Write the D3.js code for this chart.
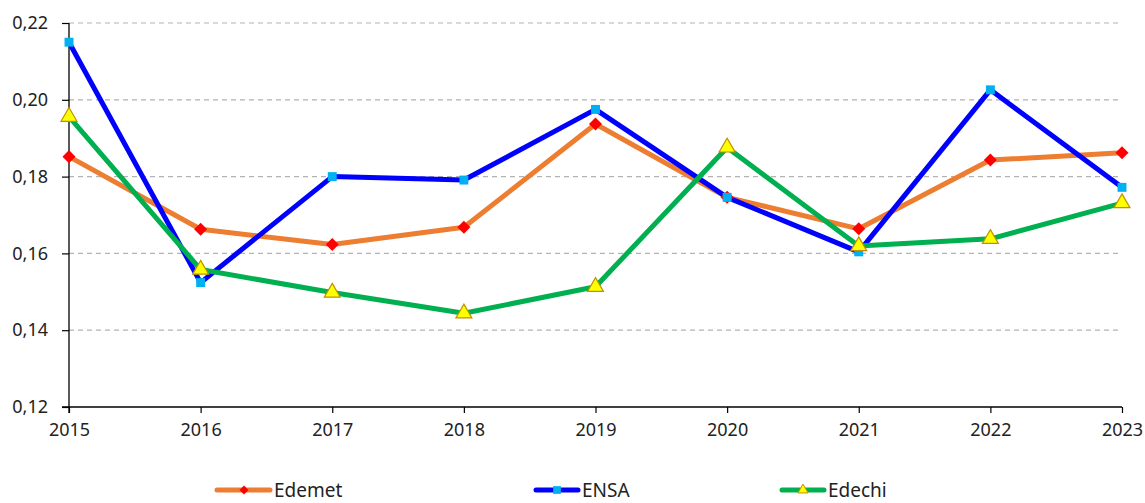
<!DOCTYPE html>
<html><head><meta charset="utf-8">
<script src="https://cdn.jsdelivr.net/npm/d3@7"></script>
<style>
html,body{margin:0;padding:0;background:#fff;overflow:hidden}
svg{display:block}
text{font-family:"Noto Sans","Open Sans",sans-serif;fill:#222}
</style></head>
<body>
<svg id="chart" width="1145" height="503"></svg>
<script>
const years = [2015, 2016, 2017, 2018, 2019, 2020, 2021, 2022, 2023];
const edemet = [0.1852, 0.1663, 0.1623, 0.1668, 0.1937, 0.1746, 0.1664, 0.1843, 0.1862];
const ensa   = [0.2150, 0.1524, 0.1800, 0.1791, 0.1975, 0.1746, 0.1604, 0.2026, 0.1772];
const edechi = [0.1956, 0.1558, 0.1498, 0.1444, 0.1513, 0.1876, 0.1619, 0.1638, 0.1731];
const yTicks = [0.12, 0.14, 0.16, 0.18, 0.20, 0.22];
const seriesNames = ["Edemet", "ENSA", "Edechi"];

const svg = d3.select("#chart");
const x = d3.scaleLinear().domain([2015, 2023]).range([69, 1122]);
const y = d3.scaleLinear().domain([0.12, 0.22]).range([407, 23]);

// grid
svg.append("g").selectAll("line").data(yTicks.filter(t => t > 0.12)).join("line")
  .attr("x1", 69).attr("x2", 1122)
  .attr("y1", d => y(d)).attr("y2", d => y(d))
  .attr("stroke", "#b3b3b3").attr("stroke-width", 1.2).attr("stroke-dasharray", "5,4");

const fmt = d => d.toFixed(2).replace(".", ",");
const yAxis = svg.append("g").attr("transform", "translate(69,0)")
  .call(d3.axisLeft(y).tickValues(yTicks).tickFormat(fmt).tickSize(7).tickPadding(14));
yAxis.select(".domain").attr("d", "M0,23V413").attr("stroke", "#000").attr("stroke-width", 1.3);
const xAxis = svg.append("g").attr("transform", "translate(0,407)")
  .call(d3.axisBottom(x).tickValues(years).tickFormat(d3.format("d")).tickSize(6).tickPadding(10));
xAxis.select(".domain").attr("d", "M62,0H1122").attr("stroke", "#000").attr("stroke-width", 1.3);
svg.selectAll(".tick line").attr("stroke", "#000").attr("stroke-width", 1.2);
svg.selectAll(".tick text").attr("font-size", 18).attr("fill", "#222")
  .style("font-family", "'Noto Sans','Open Sans',sans-serif");

const line = d3.line().x((d, i) => x(years[i])).y(d => y(d));
const cfg = [
  {data: edemet, color: "#ed7d31", marker: "diamond", fill: "#ff0000", stroke: "none", size: 85},
  {data: ensa, color: "#0000ff", marker: "square", fill: "#00b0f0", stroke: "none", size: 80},
  {data: edechi, color: "#00b050", marker: "triangle", fill: "#ffff00", stroke: "#c09000", size: 110}
];
const symType = {diamond: d3.symbolDiamond2, square: d3.symbolSquare, triangle: d3.symbolTriangle};
cfg.forEach(c => {
  svg.append("path").datum(c.data).attr("d", line)
    .attr("fill", "none").attr("stroke", c.color).attr("stroke-width", 5).attr("stroke-linejoin", "round");
});
cfg.forEach(c => {
  const sym = c.marker === "diamond" ? d3.symbol(d3.symbolSquare, c.size) : d3.symbol(symType[c.marker], c.size);
  svg.append("g").selectAll("path").data(c.data).join("path")
    .attr("transform", (d, i) => `translate(${x(years[i])},${y(d)})` + (c.marker === "diamond" ? " rotate(45)" : ""))
    .attr("d", sym).attr("fill", c.fill).attr("stroke", c.stroke).attr("stroke-width", 1.2);
});

// legend
const legX = [217, 536, 782];
const legW = [53, 42, 42];
const legM = [27, 21, 21];
const legT = [57, 46, 46];
const lg = svg.append("g");
cfg.forEach((c, i) => {
  const g = lg.append("g").attr("transform", `translate(${legX[i]},490)`);
  g.append("line").attr("x1", 0).attr("x2", legW[i]).attr("stroke", c.color).attr("stroke-width", 5).attr("stroke-linecap", "round");
  const sym = c.marker === "diamond" ? d3.symbol(d3.symbolSquare, 40) : d3.symbol(symType[c.marker], c.marker === "square" ? 60 : 45);
  g.append("path").attr("d", sym)
    .attr("transform", `translate(${legM[i]},0)` + (c.marker === "diamond" ? " rotate(45)" : ""))
    .attr("fill", c.fill).attr("stroke", c.stroke).attr("stroke-width", 1);
  g.append("text").attr("x", legT[i]).attr("y", 0).attr("dy", "0.35em")
    .attr("font-size", 19).text(seriesNames[i]);
});
</script>
</body></html>
